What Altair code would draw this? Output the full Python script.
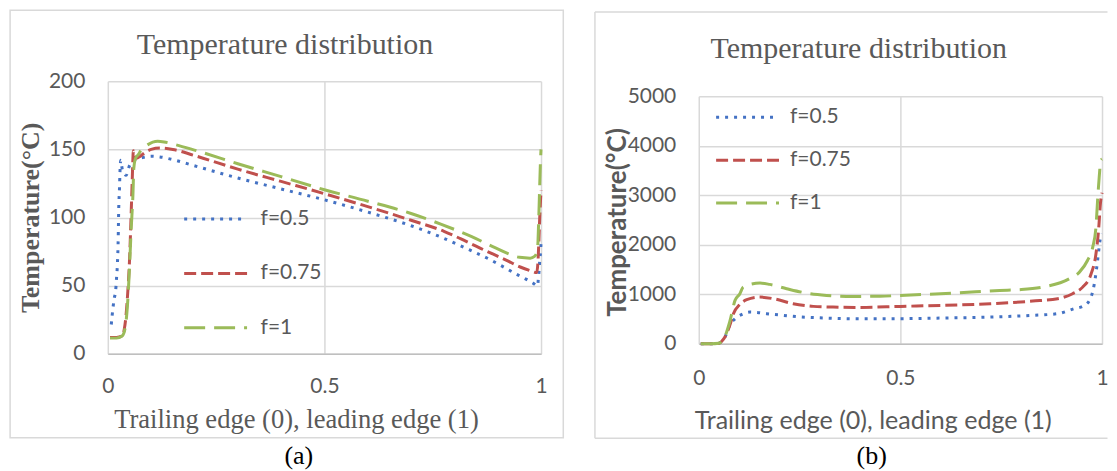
import altair as alt
import pandas as pd

SERIES = ["f=0.5", "f=0.75", "f=1"]
COLORS = ["#4472C4", "#C0504D", "#9BBB59"]
DASHES = [[3, 6], [12, 5], [21, 9]]

# ---------------- panel (a) ----------------
a_x_05 = [0.008, 0.012, 0.015, 0.018, 0.020, 0.022, 0.024, 0.025, 0.027, 0.028, 0.030,
          0.033, 0.037, 0.042, 0.050, 0.060, 0.080, 0.100, 0.120, 0.150, 0.200, 0.300,
          0.400, 0.500, 0.600, 0.700, 0.770, 0.840, 0.880, 0.910, 0.945, 0.964, 0.981,
          0.992, 0.994, 0.996, 0.997, 0.999, 1.000]
a_t_05 = [21.5, 34, 41, 46, 55, 65, 85, 104, 122, 133, 142,
          136, 133, 131, 138, 142, 144, 145, 144.5, 142.5, 138, 129,
          121, 113, 104, 94, 85.5, 75.5, 69.5, 64.3, 58.1, 55, 52,
          49.8, 56, 63, 69, 75, 82]

a_x_075 = [0.005, 0.020, 0.033, 0.038, 0.042, 0.046, 0.050, 0.054, 0.0565, 0.059, 0.062,
           0.066, 0.075, 0.085, 0.100, 0.120, 0.150, 0.200, 0.300, 0.400, 0.500, 0.600,
           0.700, 0.776, 0.814, 0.850, 0.883, 0.918, 0.952, 0.975, 0.990, 0.993, 0.995,
           0.997, 1.000]
a_t_075 = [12, 12, 13, 18, 28, 45, 68, 104, 129, 149, 146,
           143.5, 145, 147.5, 150, 151, 150, 145.5, 135.5, 126.5, 117.5, 108,
           98, 89.9, 84.5, 79, 74, 69, 63.7, 61, 59.6, 68, 82.5,
           100, 120]

a_x_1 = [0.005, 0.020, 0.033, 0.040, 0.045, 0.050, 0.054, 0.058, 0.060, 0.064, 0.070,
         0.077, 0.090, 0.115, 0.130, 0.150, 0.200, 0.300, 0.400, 0.500, 0.600, 0.700,
         0.770, 0.840, 0.895, 0.950, 0.975, 0.985, 0.991, 0.993, 0.995, 0.997, 0.999,
         1.000]
a_t_1 = [11.5, 11.5, 13, 19, 34, 63, 92, 117, 136, 143.5, 146,
         149.5, 153, 156, 155.5, 154, 149.5, 139.5, 130, 120.4, 112, 103,
         95, 86, 77.7, 70.8, 70.2, 71.5, 75, 82.5, 102, 124, 143.6,
         150]

# ---------------- panel (b) ----------------
b_x_05 = [0.005, 0.030, 0.050, 0.058, 0.065, 0.077, 0.086, 0.095, 0.106, 0.127, 0.148,
          0.168, 0.210, 0.250, 0.292, 0.333, 0.400, 0.500, 0.600, 0.723, 0.828, 0.890,
          0.931, 0.952, 0.969, 0.981, 0.987, 0.991, 0.995, 1.000]
b_t_05 = [0, 0, 10, 60, 137, 373, 474, 540, 590, 641, 629,
          609, 575, 545, 528, 515, 505, 508, 520, 540, 575, 609,
          710, 756, 877, 1214, 1548, 1818, 2087, 2222]

b_x_075 = [0.005, 0.030, 0.050, 0.058, 0.065, 0.077, 0.086, 0.102, 0.119, 0.152, 0.185,
           0.234, 0.284, 0.333, 0.400, 0.500, 0.600, 0.723, 0.828, 0.890, 0.927, 0.952,
           0.973, 0.985, 0.992, 0.996, 1.000]
b_t_075 = [0, 0, 10, 60, 137, 373, 608, 796, 891, 944, 911,
           810, 756, 742, 735, 756, 775, 810, 863, 911, 1012, 1145,
           1415, 1818, 2355, 2827, 3050]

b_x_1 = [0.005, 0.030, 0.050, 0.058, 0.065, 0.077, 0.090, 0.102, 0.110, 0.127, 0.152,
         0.176, 0.218, 0.267, 0.317, 0.366, 0.450, 0.500, 0.639, 0.746, 0.795, 0.853,
         0.919, 0.944, 0.964, 0.977, 0.985, 0.989, 0.993, 0.997, 1.000]
b_t_1 = [0, 0, 10, 60, 150, 450, 877, 1012, 1145, 1200, 1226,
         1200, 1113, 1025, 978, 957, 960, 978, 1025, 1079, 1093, 1145,
         1314, 1448, 1683, 1952, 2355, 2893, 3363, 3700, 3730]

A_Y_TICKS = [0, 50, 100, 150, 200]
B_Y_TICKS = [0, 1000, 2000, 3000, 4000, 5000]
X_TICKS = [0, 0.5, 1]

TITLE = "Temperature distribution"
X_TITLE = "Trailing edge (0), leading edge (1)"
Y_TITLE = "Temperature(°C)"

GRAY = "#595959"
GRID = "#d9d9d9"
SERIF = "Liberation Serif"
SANS = "Lato"


def make_df(xs_list, ts_list):
    frames = []
    for name, xs, ts in zip(SERIES, xs_list, ts_list):
        frames.append(pd.DataFrame({"x": xs, "t": ts, "f": name}))
    return pd.concat(frames, ignore_index=True)


df_a = make_df([a_x_05, a_x_075, a_x_1], [a_t_05, a_t_075, a_t_1])
df_b = make_df([b_x_05, b_x_075, b_x_1], [b_t_05, b_t_075, b_t_1])


def legend(lx, ly, rowpad, loff):
    return alt.Legend(title=None, orient="none", legendX=lx, legendY=ly,
                      symbolType="M-3,0H3", symbolSize=441, symbolStrokeWidth=3,
                      labelFont=SANS, labelFontSize=21, labelColor=GRAY,
                      labelOffset=loff, rowPadding=rowpad, padding=0)


def panel(df, ymax, yticks, w, h, serif_titles, xt, yt, leg, title_dx, title_dy):
    tfont = SERIF if serif_titles else SANS
    lg = legend(*leg)
    return alt.Chart(df).mark_line(strokeWidth=3, interpolate="monotone").encode(
        x=alt.X("x:Q", scale=alt.Scale(domain=[0, 1], nice=False),
                axis=alt.Axis(values=X_TICKS, format="~g", title=X_TITLE,
                              titleFont=tfont, titleFontSize=26.6 if serif_titles else 25.1,
                              titleFontWeight="normal", titleColor=GRAY,
                              titleX=xt[0], titleY=xt[1], titleAlign="center",
                              titleBaseline="alphabetic",
                              labelFont=SANS, labelFontSize=21, labelColor=GRAY,
                              labelPadding=xt[2], labelFlush=False, ticks=False,
                              domainColor="#bfbfbf", domainWidth=1.5,
                              grid=True, gridColor=GRID, gridWidth=1.5)),
        y=alt.Y("t:Q", scale=alt.Scale(domain=[0, ymax], nice=False),
                axis=alt.Axis(values=yticks, format="d", title=Y_TITLE,
                              titleFont=tfont, titleFontSize=26,
                              titleFontWeight="bold", titleColor=GRAY,
                              titleAngle=270, titleX=yt[0], titleY=yt[1],
                              titleAlign="center", titleBaseline="middle",
                              labelFont=SANS, labelFontSize=21, labelColor=GRAY,
                              labelPadding=23, ticks=False, domain=False,
                              grid=True, gridColor=GRID, gridWidth=1.5)),
        color=alt.Color("f:N", scale=alt.Scale(domain=SERIES, range=COLORS), legend=lg),
        strokeDash=alt.StrokeDash("f:N", scale=alt.Scale(domain=SERIES, range=DASHES), legend=lg),
    ).properties(
        width=w, height=h,
        title=alt.TitleParams(TITLE, font=SERIF, fontSize=30, fontWeight="normal",
                              color=GRAY, anchor="middle", frame="group",
                              dx=title_dx, dy=title_dy, offset=16, baseline="alphabetic"),
    )


chart_a = panel(df_a, 200, A_Y_TICKS, 434, 273, True,
                (188.5, 74, 22), (-77.5, 136.3), (96, 126, 32.5, 33), -39.5, 30)
chart_b = panel(df_b, 5000, B_Y_TICKS, 404, 248, False,
                (174.3, 84.7, 24), (-81.7, 126), (36.9, 9, 21, 30.5), -41.7, 19)

# decorations: page extent, panel frames and captions (spacer above panel b)
deco = alt.Chart(pd.DataFrame({"k": [0]}))
page_box = deco.mark_rect(fill="transparent", strokeWidth=0).encode(
    x=alt.value(-690.7), x2=alt.value(410.3), y=alt.value(-72), y2=alt.value(388))
frame_a = deco.mark_rect(fill="transparent", stroke=GRID, strokeWidth=1.5).encode(
    x=alt.value(-689.9), x2=alt.value(-135.7), y=alt.value(-71.2), y2=alt.value(357))
b_left = deco.mark_rule(color=GRID, strokeWidth=1.5).encode(
    x=alt.value(-104), y=alt.value(-69.3), y2=alt.value(357.5))
b_top = deco.mark_rule(color=GRID, strokeWidth=1.5).encode(
    x=alt.value(-104), x2=alt.value(409.5), y=alt.value(-69.3))
b_bottom = deco.mark_rule(color=GRID, strokeWidth=1.5).encode(
    x=alt.value(-104), x2=alt.value(409.5), y=alt.value(357.5))
cap_a = deco.mark_text(text="(a)", font=SERIF, fontSize=26, color="black",
                       align="center", baseline="middle").encode(
    x=alt.value(-400.7), y=alt.value(375))
cap_b = deco.mark_text(text="(b)", font=SERIF, fontSize=26, color="black",
                       align="center", baseline="middle").encode(
    x=alt.value(173.3), y=alt.value(375))
spacer = alt.layer(page_box, frame_a, b_left, b_top, b_bottom, cap_a, cap_b).properties(
    width=404, height=15)

right = alt.vconcat(spacer, chart_b, spacing=0, bounds="flush").resolve_scale(
    color="independent", strokeDash="independent").resolve_legend(
    color="independent", strokeDash="independent")

chart = alt.hconcat(chart_a, right, spacing=158, bounds="flush").resolve_scale(
    color="independent", strokeDash="independent").resolve_legend(
    color="independent", strokeDash="independent").properties(
    padding=0, background="white").configure_view(stroke="transparent")

chart.save("out.html", embed_options={"renderer": "svg", "actions": False})
